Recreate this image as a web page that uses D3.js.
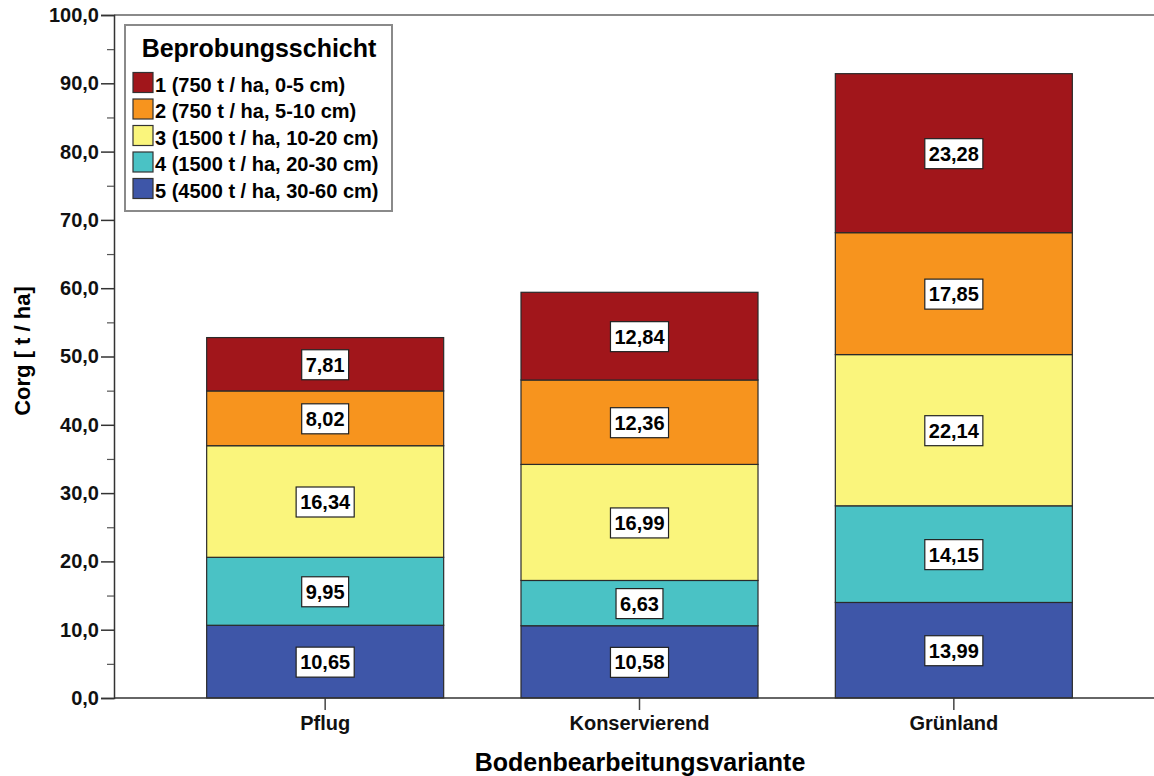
<!DOCTYPE html>
<html>
<head>
<meta charset="utf-8">
<script src="https://cdn.jsdelivr.net/npm/d3@7"></script>
<style>
  html, body { margin: 0; padding: 0; background: #fff; }
  svg { display: block; font-family: "Liberation Sans", Arial, sans-serif; }
</style>
</head>
<body>
<svg id="chart" width="1154" height="776"></svg>
<script>
// ---- data ----
const categories = ["Pflug", "Konservierend", "Grünland"];
const layers = ["1", "2", "3", "4", "5"];
const layerLabels = [
  "1 (750 t / ha, 0-5 cm)",
  "2 (750 t / ha, 5-10 cm)",
  "3 (1500 t / ha, 10-20 cm)",
  "4 (1500 t / ha, 20-30 cm)",
  "5 (4500 t / ha, 30-60 cm)"
];
const layerColors = ["#A1161B", "#F7941E", "#FAF57C", "#4AC2C5", "#3E56A8"];
const layer1 = [7.81, 12.84, 23.28];
const layer2 = [8.02, 12.36, 17.85];
const layer3 = [16.34, 16.99, 22.14];
const layer4 = [9.95, 6.63, 14.15];
const layer5 = [10.65, 10.58, 13.99];
const yTicks = [0, 10, 20, 30, 40, 50, 60, 70, 80, 90, 100];
const yMinorTicks = [5, 15, 25, 35, 45, 55, 65, 75, 85, 95];

const layerValues = [layer1, layer2, layer3, layer4, layer5];
const rows = categories.map((c, i) => {
  const r = { cat: c };
  layers.forEach((l, j) => { r[l] = layerValues[j][i]; });
  return r;
});

const loc = d3.formatLocale({ decimal: ",", thousands: ".", grouping: [3], currency: ["", "€"] });
const f1 = loc.format(".1f");
const f2 = loc.format(".2f");
const FONT = "Liberation Sans, Arial, sans-serif";

const svg = d3.select("#chart");
const axisX = 114, y0px = 698, yTop = 15;

const y = d3.scaleLinear().domain([0, 100]).range([y0px, yTop]);
const x = d3.scaleBand().domain(categories).range([168, 1111]).paddingInner(0.246).paddingOuter(0.123);

const stack = d3.stack().keys(["5", "4", "3", "2", "1"]);
const series = stack(rows);
const colorOf = k => layerColors[layers.indexOf(k)];

// top frame line
svg.append("line").attr("x1", axisX).attr("x2", 1154).attr("y1", y(100)).attr("y2", y(100))
  .attr("stroke", "#8a8a8a").attr("stroke-width", 2);

// bars
const g = svg.append("g");
series.forEach(s => {
  g.selectAll(null).data(s).enter().append("rect")
    .attr("x", d => x(d.data.cat))
    .attr("width", x.bandwidth())
    .attr("y", d => y(d[1]))
    .attr("height", d => y(d[0]) - y(d[1]))
    .attr("fill", colorOf(s.key))
    .attr("stroke", "#2a2a2a").attr("stroke-width", 1.2);
});

// value labels
series.forEach(s => {
  s.forEach(d => {
    const cx = x(d.data.cat) + x.bandwidth() / 2;
    const cy = (y(d[0]) + y(d[1])) / 2;
    const lg = svg.append("g");
    const rect = lg.append("rect").attr("fill", "#fff").attr("stroke", "#222").attr("stroke-width", 1.2);
    const t = lg.append("text").attr("x", cx).attr("y", cy + 7.5)
      .attr("text-anchor", "middle").attr("font-size", 20).attr("font-weight", "bold")
      .attr("fill", "#000").text(f2(d[1] - d[0]));
    const w = t.node().getComputedTextLength();
    rect.attr("x", cx - w / 2 - 4).attr("y", cy - 14.5).attr("width", w + 8).attr("height", 30);
  });
});

// y axis
const yAxis = d3.axisLeft(y).tickValues(yTicks).tickFormat(f1).tickSize(13).tickPadding(2);
const ya = svg.append("g").attr("transform", `translate(${axisX},0)`).call(yAxis);
ya.select(".domain").attr("stroke", "#333").attr("stroke-width", 1.5);
ya.selectAll(".tick line").attr("stroke", "#333").attr("stroke-width", 1.5);
ya.selectAll(".tick text").attr("font-size", 20).attr("font-weight", "bold")
  .attr("fill", "#111").attr("font-family", FONT);
const yMinor = d3.axisLeft(y).tickValues(yMinorTicks).tickSize(7).tickFormat("");
const ym = svg.append("g").attr("transform", `translate(${axisX},0)`).call(yMinor);
ym.select(".domain").remove();
ym.selectAll(".tick line").attr("stroke", "#555").attr("stroke-width", 1.2);

// x axis
const xAxis = d3.axisBottom(x).tickSize(12).tickPadding(6);
const xa = svg.append("g").attr("transform", `translate(0,${y0px})`).call(xAxis);
xa.select(".domain").remove();
xa.selectAll(".tick line").attr("stroke", "#444").attr("stroke-width", 1.5);
xa.selectAll(".tick text").attr("font-size", 20).attr("font-weight", "bold")
  .attr("fill", "#111").attr("font-family", FONT);
svg.append("line").attr("x1", axisX).attr("x2", 1154).attr("y1", y0px).attr("y2", y0px)
  .attr("stroke", "#333").attr("stroke-width", 1.5);

// axis titles
svg.append("text").attr("x", 640).attr("y", 771).attr("text-anchor", "middle")
  .attr("font-size", 25).attr("font-weight", "bold")
  .text("Bodenbearbeitungsvariante");
svg.append("text").attr("transform", "translate(30,351) rotate(-90)").attr("text-anchor", "middle")
  .attr("font-size", 22).attr("font-weight", "bold")
  .text("Corg [ t / ha]");

// legend
const lg = svg.append("g");
lg.append("rect").attr("x", 125).attr("y", 25).attr("width", 267).attr("height", 186)
  .attr("fill", "#fff").attr("stroke", "#8a8a8a").attr("stroke-width", 2);
lg.append("text").attr("x", 259).attr("y", 57).attr("text-anchor", "middle")
  .attr("font-size", 25).attr("font-weight", "bold")
  .text("Beprobungsschicht");
layerLabels.forEach((lab, i) => {
  const top = 72.5 + i * 26.5;
  lg.append("rect").attr("x", 133).attr("y", top).attr("width", 20).attr("height", 20)
    .attr("fill", layerColors[i]).attr("stroke", "#333").attr("stroke-width", 1.2);
  lg.append("text").attr("x", 155).attr("y", top + 19).attr("font-size", 20)
    .attr("font-weight", "bold").text(lab);
});
</script>
</body>
</html>
